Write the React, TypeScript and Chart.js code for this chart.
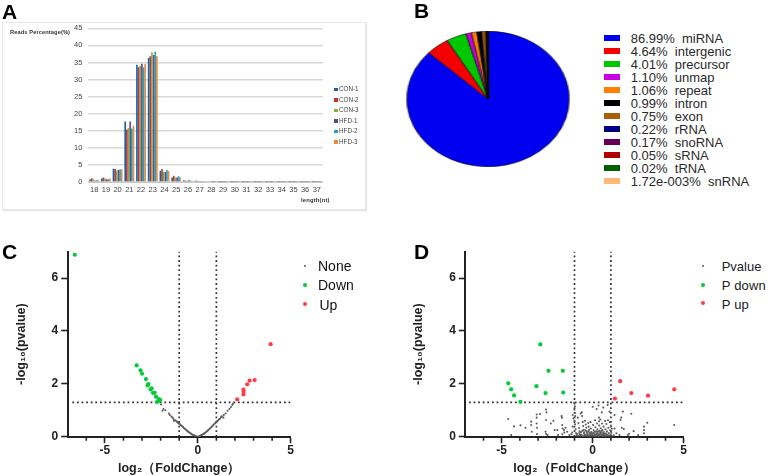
import React, { useEffect, useRef } from 'react';
import Chart from 'chart.js/auto';

// === Panel A: read length distribution ===
const LENGTHS = ['18', '19', '20', '21', '22', '23', '24', '25', '26', '27', '28', '29', '30', '31', '32', '33', '34', '35', '36', '37'];
const CON_1 = [0.7, 1.0, 3.9, 17.7, 34.3, 36.3, 3.3, 1.3, 0.5, 0.4, 0.2, 0.1, 0.1, 0.1, 0.1, 0.1, 0.1, 0.1, 0.1, 0.1];
const CON_2 = [1.1, 1.3, 3.8, 15.4, 33.6, 36.8, 3.8, 1.8, 0.4, 0.4, 0.2, 0.1, 0.1, 0.1, 0.1, 0.1, 0.1, 0.1, 0.05, 0.05];
const CON_3 = [0.8, 1.0, 3.3, 15.8, 34.0, 38.0, 3.0, 1.3, 0.4, 0.3, 0.2, 0.1, 0.1, 0.1, 0.1, 0.1, 0.1, 0.1, 0.05, 0.1];
const HFD_1 = [0.4, 0.8, 3.5, 17.7, 34.6, 37.2, 2.9, 1.3, 0.5, 0.3, 0.1, 0.1, 0.1, 0.1, 0.1, 0.1, 0.1, 0.1, 0.05, 0.05];
const HFD_2 = [0.5, 0.8, 3.7, 15.7, 33.6, 38.1, 3.5, 1.7, 0.4, 0.3, 0.1, 0.1, 0.1, 0.1, 0.1, 0.1, 0.1, 0.1, 0.1, 0.1];
const HFD_3 = [0.6, 1.0, 3.7, 16.5, 34.6, 36.8, 3.2, 1.3, 0.4, 0.3, 0.1, 0.1, 0.1, 0.1, 0.1, 0.1, 0.1, 0.1, 0.05, 0.05];
const READ_SERIES = [
  { label: 'CON-1', data: CON_1, color: '#1560a8' },
  { label: 'CON-2', data: CON_2, color: '#c8332f' },
  { label: 'CON-3', data: CON_3, color: '#86b03e' },
  { label: 'HFD-1', data: HFD_1, color: '#66468f' },
  { label: 'HFD-2', data: HFD_2, color: '#1ca3bf' },
  { label: 'HFD-3', data: HFD_3, color: '#f08a33' },
];

// === Panel B: annotation pie ===
const RNA_NAMES = ['86.99%  miRNA', '4.64%  intergenic', '4.01%  precursor', '1.10%  unmap', '1.06%  repeat', '0.99%  intron', '0.75%  exon', '0.22%  rRNA', '0.17%  snoRNA', '0.05%  sRNA', '0.02%  tRNA', '1.72e-003%  snRNA'];
const RNA_SHARES = [86.99, 4.64, 4.01, 1.1, 1.06, 0.99, 0.75, 0.22, 0.17, 0.05, 0.02, 0.00172];
const RNA_COLORS = ['#0000f0', '#f50000', '#00c800', '#c800e0', '#ff8000', '#000000', '#a86008', '#000080', '#660055', '#b00000', '#006000', '#ffb878'];

// === Panel C: volcano ===
const C_NONE = [
  [-1.98, 1.22], [-1.85, 1.05], [-1.9, 0.98], [-1.75, 1.0], [-1.55, 0.88], [-1.5, 0.82], [-1.42, 0.76], [-1.35, 0.72], [-1.3, 0.66], [-1.28, 0.6],
  [-1.2, 0.62], [-1.15, 0.58], [-1.1, 0.55], [-1.05, 0.52], [-1, 0.49], [-0.95, 0.46], [-0.9, 0.43], [-0.85, 0.4], [-0.8, 0.37], [-0.75, 0.33],
  [-0.7, 0.3], [-0.65, 0.27], [-0.6, 0.24], [-0.55, 0.21], [-0.5, 0.18], [-0.45, 0.155], [-0.4, 0.13], [-0.35, 0.105], [-0.3, 0.085], [-0.25, 0.065],
  [-0.2, 0.05], [-0.15, 0.03], [-0.1, 0.018], [-0.05, 0.008], [0, 0], [0.05, 0.01], [0.1, 0.022], [0.15, 0.04], [0.2, 0.06], [0.25, 0.08],
  [0.3, 0.1], [0.35, 0.125], [0.4, 0.15], [0.45, 0.18], [0.5, 0.21], [0.55, 0.24], [0.6, 0.275], [0.65, 0.31], [0.7, 0.34], [0.75, 0.38],
  [0.8, 0.41], [0.85, 0.45], [0.9, 0.49], [0.95, 0.52], [1, 0.56], [1.05, 0.59], [1.1, 0.62], [1.15, 0.66], [1.2, 0.69], [1.25, 0.74],
  [1.3, 0.77], [1.38, 0.72], [1.4, 0.82], [1.5, 0.88], [1.6, 0.98], [1.7, 1.05], [1.78, 1.12], [1.85, 1.2], [1.9, 1.25],
];
const C_DOWN = [
  [-6.62, 6.88], [-3.29, 2.7], [-3.08, 2.51], [-3.0, 2.38], [-2.79, 2.18], [-2.66, 1.99], [-2.7, 1.94], [-2.54, 1.79], [-2.48, 1.83], [-2.41, 1.66],
  [-2.32, 1.66], [-2.25, 1.51], [-2.1, 1.42], [-2.03, 1.39], [-2.18, 1.32], [-2.06, 1.36],
];
const C_UP = [[3.92, 3.5], [3.06, 2.14], [2.79, 2.12], [2.66, 1.98], [2.46, 1.78], [2.46, 1.7], [2.46, 1.6], [2.12, 1.41]];

// === Panel D: volcano ===
const D_NONE = [
  [-4.64, 0.67], [-4.48, 0.06], [-4.32, 0.39], [-3.97, 0.43], [-3.69, 0.34], [-3.38, 0.57], [-3.38, 0.44], [-3.35, 0.19], [-3.08, 0.84], [-2.9, 0.86],
  [-3.08, 0.72], [-3.08, 0.5], [-3.06, 0.34], [-3.06, 0.1], [-2.57, 1.03], [-2.54, 0.92], [-2.56, 0.63], [-2.59, 0.19], [-2.56, 0.1], [-2.48, 0.06],
  [-2.3, 0.5], [-2.16, 0.6], [-2.09, 0.25], [-1.94, 0.25], [-1.9, 0.06], [-1.71, 0.78], [-1.69, 0.72], [-1.67, 0.44], [-1.65, 0.31], [-1.58, 0.25],
  [-1.49, 0.34], [-1.67, 0.09], [-1.56, 0.16], [-1.4, 0.19], [-1.28, 0.06], [-1.17, 0.09], [-1.1, 0.82], [-1.06, 0.69], [-1.1, 0.38], [-1.13, 0.16],
  [-1.02, 1.28], [-0.98, 1.15], [-1.0, 1.02], [-0.98, 0.9], [-0.96, 0.78], [-1.0, 0.6], [-0.97, 0.47], [-0.94, 0.28], [-0.92, 0.14], [-0.88, 0.05],
  [-0.82, 0.72], [-0.78, 0.52], [-0.75, 0.33], [-0.72, 0.2], [-0.7, 0.08], [-0.66, 0.88], [-0.6, 0.92], [-0.58, 0.78], [-0.55, 0.56], [-0.52, 0.4],
  [-0.5, 0.26], [-0.48, 0.12], [-0.45, 0.03], [-0.42, 0.6], [-0.38, 0.46], [-0.35, 0.34], [-0.33, 0.2], [-0.3, 0.09], [-0.28, 0.02], [-0.25, 0.52],
  [-0.22, 0.38], [-0.2, 0.26], [-0.18, 0.15], [-0.15, 0.06], [-0.12, 0.55], [-0.1, 0.31], [-0.08, 0.18], [-0.05, 0.09], [-0.03, 0.03], [0, 1.13],
  [0.02, 0.44], [0.05, 0.24], [0.08, 0.12], [0.1, 0.04], [0.13, 0.62], [0.15, 0.36], [0.18, 0.2], [0.2, 0.08], [0.22, 1.05], [0.24, 0.5],
  [0.26, 0.28], [0.28, 0.14], [0.3, 0.03], [0.32, 1.18], [0.34, 0.72], [0.35, 0.58], [0.36, 0.42], [0.38, 0.22], [0.4, 0.1], [0.42, 0.65],
  [0.44, 0.32], [0.46, 0.16], [0.48, 0.05], [0.5, 0.92], [0.52, 0.5], [0.54, 0.25], [0.56, 0.08], [0.58, 1.1], [0.6, 0.38], [0.62, 0.18],
  [0.64, 0.04], [0.68, 0.6], [0.7, 0.28], [0.72, 0.12], [0.75, 0.48], [0.78, 0.2], [0.8, 0.06], [0.82, 1.2], [0.84, 0.62], [0.86, 0.34],
  [0.88, 0.14], [0.9, 0.04], [0.92, 0.95], [0.94, 0.55], [0.96, 0.24], [0.98, 0.08], [1.0, 0.42], [1.02, 0.15], [1.04, 0.03], [1.06, 0.3],
  [1.2, 0.82], [1.66, 0.95], [2.12, 0.87], [1.53, 0.63], [1.57, 0.72], [1.6, 0.34], [1.71, 0.29], [1.2, 0.31], [2.0, 0.11], [2.25, 0.21],
  [2.82, 0.38], [2.82, 0.25], [2.82, 0.13], [3.0, 0.53], [4.48, 0.44], [1.93, 0.06], [2.5, 0.06], [1.47, 0.06], [1.3, 0.13], [1.15, 0.05],
  // the crowded strip along the bottom of the plot
  [-0.86, 0.1], [-0.8, 0.03], [-0.74, 0.13], [-0.68, 0.04], [-0.64, 0.17], [-0.61, 0.07], [-0.57, 0.22], [-0.54, 0.02], [-0.47, 0.17], [-0.43, 0.08],
  [-0.4, 0.24], [-0.36, 0.05], [-0.31, 0.15], [-0.26, 0.07], [-0.23, 0.2], [-0.17, 0.03], [-0.13, 0.11], [-0.09, 0.04], [-0.06, 0.16], [-0.01, 0.08],
  [0.03, 0.14], [0.06, 0.03], [0.11, 0.19], [0.14, 0.07], [0.17, 0.02], [0.21, 0.13], [0.25, 0.05], [0.29, 0.2], [0.33, 0.08], [0.37, 0.03],
  [0.41, 0.16], [0.45, 0.09], [0.49, 0.22], [0.53, 0.03], [0.57, 0.14], [0.61, 0.06], [0.66, 0.1], [0.71, 0.03], [0.76, 0.09], [0.83, 0.05],
];
const D_DOWN = [[-2.88, 3.49], [-2.43, 2.49], [-1.64, 2.49], [-4.64, 2.02], [-3.09, 1.91], [-4.48, 1.79], [-2.59, 1.65], [-1.62, 1.67], [-4.32, 1.56], [-3.97, 1.32]];
const D_UP = [[1.51, 2.1], [2.12, 1.65], [3.04, 1.55], [4.48, 1.79], [1.22, 1.44]];

const FOLD_LIMITS = [-1, 1];
const P_CUTOFF = 1.3;
const X_MINOR = [-6, -4, -3, -2, -1, 1, 2, 3, 4];
const X_MAJOR = [-5, 0, 5];

const FONT = '"Liberation Sans", Arial, sans-serif';
const GRAY = '#5c5c5c';
const GREEN = '#00cc33';
const RED = '#ff3b48';
const INK = '#222222';

Chart.defaults.font.family = FONT;

// Canvas chart with the usual create / destroy dance
const ChartCanvas = ({ config, width, height, style }: any) => {
  const ref = useRef<HTMLCanvasElement>(null);
  useEffect(() => {
    if (!ref.current) return;
    const chart = new Chart(ref.current, config());
    return () => chart.destroy();
  }, []);
  return <canvas ref={ref} width={width} height={height} style={{ position: 'absolute', display: 'block', ...style }} />;
};

const minorTicks = {
  id: 'minorTicks',
  afterDraw(chart: any) {
    const { ctx, scales } = chart;
    ctx.save();
    ctx.strokeStyle = INK;
    ctx.lineWidth = 1.6;
    X_MINOR.forEach(v => {
      const px = scales.x.getPixelForValue(v);
      ctx.beginPath();
      ctx.moveTo(px, scales.x.top);
      ctx.lineTo(px, scales.x.top + 4);
      ctx.stroke();
    });
    ctx.restore();
  },
};

const toPoints = (rows: number[][]) => rows.map(([x, y]) => ({ x, y }));

const guide = (rows: number[][]) => ({
  data: toPoints(rows),
  showLine: true,
  pointRadius: 0,
  borderColor: '#333333',
  borderWidth: 1.7,
  borderDash: [1.8, 2.8],
  order: 5,
});

const volcanoConfig = (none: number[][], down: number[][], up: number[][], axisLeft: number, padRight: number, titleGap: number, lineStart: number) => () => ({
  type: 'scatter',
  data: {
    datasets: [
      guide([[lineStart, P_CUTOFF], [5, P_CUTOFF]]),
      guide([[FOLD_LIMITS[0], 0], [FOLD_LIMITS[0], 7]]),
      guide([[FOLD_LIMITS[1], 0], [FOLD_LIMITS[1], 7]]),
      { data: toPoints(none), pointRadius: 1.05, pointBorderWidth: 0, pointBackgroundColor: GRAY, order: 3 },
      { data: toPoints(down), pointRadius: 2.1, pointBorderWidth: 0, pointBackgroundColor: GREEN, order: 2 },
      { data: toPoints(up), pointRadius: 2.1, pointBorderWidth: 0, pointBackgroundColor: RED, order: 1 },
    ],
  },
  options: {
    animation: false,
    responsive: false,
    layout: { padding: { top: 16.6, right: padRight, left: 0, bottom: 0 } },
    plugins: { legend: { display: false }, tooltip: { enabled: false } },
    scales: {
      x: {
        type: 'linear',
        min: -7,
        max: 5,
        afterBuildTicks: (s: any) => { s.ticks = X_MAJOR.map(value => ({ value })); },
        afterFit: (s: any) => { s.height = 39.3; },
        border: { color: INK, width: 2 },
        grid: { drawOnChartArea: false, tickLength: 6.5, tickColor: INK, tickWidth: 1.6 },
        ticks: { color: INK, padding: 0, maxRotation: 0, font: { size: 12, weight: 'bold' } },
        title: { display: true, text: 'log₂（FoldChange）', color: INK, padding: { top: 0, bottom: 0 }, font: { size: 12.5, weight: 'bold' } },
      },
      y: {
        min: 0,
        max: 7,
        afterBuildTicks: (s: any) => { s.ticks = [0, 2, 4, 6].map(value => ({ value })); },
        afterFit: (s: any) => { s.width = axisLeft; },
        border: { color: INK, width: 2 },
        grid: { drawOnChartArea: false, tickLength: 6.5, tickColor: INK, tickWidth: 1.6 },
        ticks: { color: INK, padding: 3, font: { size: 12, weight: 'bold' } },
        title: { display: true, text: '-log₁₀(pvalue)', color: INK, padding: { top: titleGap, bottom: 0 }, font: { size: 12.5, weight: 'bold' } },
      },
    },
  },
  plugins: [minorTicks],
});

const readsConfig = () => ({
  type: 'bar',
  data: {
    labels: LENGTHS,
    datasets: READ_SERIES.map(s => ({ label: s.label, data: s.data, backgroundColor: s.color, borderWidth: 0 })),
  },
  options: {
    animation: false,
    responsive: false,
    layout: { padding: { top: 28.3, right: 47.3, left: 0, bottom: 0 } },
    plugins: { legend: { display: false }, tooltip: { enabled: false } },
    datasets: { bar: { categoryPercentage: 0.84, barPercentage: 1 } },
    scales: {
      x: {
        afterFit: (s: any) => { s.height = 33; },
        border: { color: '#c8c8c8', width: 1 },
        grid: { display: false, drawTicks: false },
        ticks: { color: '#444444', padding: 3, maxRotation: 0, autoSkip: false, font: { size: 7.5 } },
      },
      y: {
        min: 0,
        max: 45,
        afterFit: (s: any) => { s.width = 88.3; },
        border: { display: false },
        grid: { color: '#d8d8d8', lineWidth: 1.4, drawTicks: false },
        ticks: { stepSize: 5, color: '#444444', padding: 6, font: { size: 7.5 } },
      },
    },
  },
});

const pieConfig = () => ({
  type: 'pie',
  data: {
    labels: RNA_NAMES,
    datasets: [{ data: RNA_SHARES, backgroundColor: RNA_COLORS, borderColor: '#000000', borderWidth: 0.6 }],
  },
  options: {
    animation: false,
    responsive: false,
    plugins: { legend: { display: false }, tooltip: { enabled: false } },
  },
});

const Label = ({ x, y, size = 13, bold = false, color = '#222222', spacing = 0, children }: any) => (
  <div
    style={{
      position: 'absolute',
      left: x,
      top: y,
      transform: 'translateY(-50%)',
      fontFamily: FONT,
      fontSize: size,
      fontWeight: bold ? 700 : 400,
      color,
      letterSpacing: spacing,
      whiteSpace: 'pre',
      lineHeight: 1,
    }}
  >
    {children}
  </div>
);

const Dot = ({ x, y, size, color }: any) => (
  <div style={{ position: 'absolute', left: x - size / 2, top: y - size / 2, width: size, height: size, borderRadius: '50%', background: color }} />
);

const App = () => (
  <div style={{ position: 'absolute', left: 0, top: 0, width: 768, height: 476, overflow: 'hidden', background: '#ffffff' }}>
    {/* A */}
    <div style={{ position: 'absolute', left: 0, top: 0, width: 370, height: 215, filter: 'blur(0.55px)' }}>
      <div style={{ position: 'absolute', left: 2, top: 22, width: 362, height: 186, border: '1px solid #e6e6e6', boxShadow: '1px 1px 1px #e6e6e6' }} />
      <ChartCanvas config={readsConfig} width={370} height={215} style={{ left: 0, top: 0 }} />
      <Label x={10} y={33} size={5.7} bold color="#333333" spacing={0.1}>Reads Percentage(%)</Label>
      <Label x={301} y={201} size={5.8} bold color="#333333" spacing={0.2}>length(nt)</Label>
      {READ_SERIES.map((s, i) => (
        <React.Fragment key={s.label}>
          <div style={{ position: 'absolute', left: 334, top: 87.5 + i * 10.5, width: 4, height: 3.5, background: s.color }} />
          <Label x={339} y={89.3 + i * 10.5} size={6.3} color="#444444">{s.label}</Label>
        </React.Fragment>
      ))}
    </div>

    {/* B */}
    <ChartCanvas config={pieConfig} width={136} height={136} style={{ left: 420.3, top: 31.3, transform: 'scaleX(1.2)', filter: 'blur(0.3px)' }} />
    {RNA_NAMES.map((name, i) => (
      <React.Fragment key={name}>
        <div style={{ position: 'absolute', left: 604, top: 35.3 + i * 12.97, width: 16, height: 6, background: RNA_COLORS[i] }} />
        <Label x={630.7} y={38.3 + i * 12.97} size={13} color="#2a2a2a">{name}</Label>
      </React.Fragment>
    ))}

    {/* C */}
    <ChartCanvas config={volcanoConfig(C_NONE, C_DOWN, C_UP, 67.7, 19.3, 14, -6.75)} width={310} height={241} style={{ left: 0, top: 235, filter: 'blur(0.3px)' }} />
    <Dot x={305} y={265.7} size={2} color={GRAY} />
    <Dot x={305} y={285} size={4} color={GREEN} />
    <Dot x={305} y={304} size={4} color={RED} />
    <Label x={318} y={265.7} size={14} color="#111111">None</Label>
    <Label x={318} y={285} size={14} color="#111111">Down</Label>
    <Label x={319.5} y={304.5} size={14} color="#111111">Up</Label>

    {/* D */}
    <ChartCanvas config={volcanoConfig(D_NONE, D_DOWN, D_UP, 81.3, 16.3, 27, -6.8)} width={316} height={241} style={{ left: 384, top: 235, filter: 'blur(0.3px)' }} />
    <Dot x={702.7} y={265.7} size={2} color={GRAY} />
    <Dot x={702.7} y={285} size={4} color={GREEN} />
    <Dot x={702.7} y={303} size={4} color={RED} />
    <Label x={721.7} y={265.7} size={13} color="#222222">Pvalue</Label>
    <Label x={721.7} y={285} size={13} color="#222222" spacing={0.2}>P down</Label>
    <Label x={721.7} y={303.5} size={13} color="#222222" spacing={0.2}>P up</Label>

    {/* panel letters */}
    <Label x={2} y={11} size={21} bold color="#000000">A</Label>
    <Label x={414} y={10} size={21} bold color="#000000">B</Label>
    <Label x={2} y={251} size={21} bold color="#000000">C</Label>
    <Label x={414} y={250.5} size={21} bold color="#000000">D</Label>
  </div>
);

export default App;
